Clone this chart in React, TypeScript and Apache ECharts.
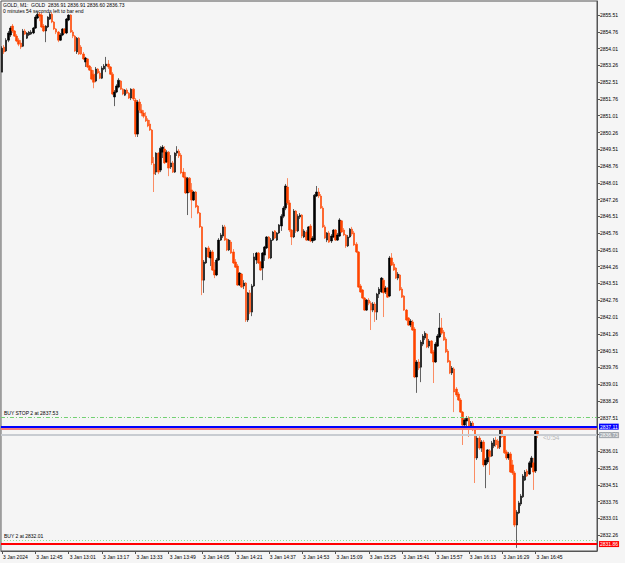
import React, { useEffect, useRef } from "react";
import * as echarts from "echarts";

// GOLD M1 candles, [open, close, low, high]; first bar 3 Jan 12:29
const bars1229: number[][] = [
  [2852.96,2854.03,2852.96,2854.12],[2854.08,2853.86,2853.77,2854.17],[2853.91,2854.39,2853.86,2854.48],
  [2854.39,2854.71,2854.30,2854.80],[2854.62,2854.93,2854.53,2855.02],[2855.02,2854.80,2854.71,2855.11],
  [2854.80,2854.57,2854.53,2854.84],[2854.57,2854.35,2854.30,2854.66],[2854.39,2854.21,2854.12,2854.48],
  [2854.26,2854.08,2853.99,2854.39],[2854.12,2854.80,2854.08,2854.89],[2854.80,2854.66,2854.62,2854.89],
  [2854.48,2854.71,2854.44,2854.75],[2854.62,2854.75,2854.57,2854.80],[2854.66,2854.75,2854.62,2854.84],
  [2854.71,2854.93,2854.66,2854.98],[2854.93,2855.42,2854.89,2855.51],[2855.38,2855.55,2855.33,2855.64],
  [2855.55,2855.46,2855.24,2855.64],[2855.51,2854.98,2854.93,2855.60],[2855.02,2854.80,2854.75,2855.11],
  [2854.80,2855.02,2854.30,2855.06],[2854.98,2855.42,2854.93,2855.46],[2855.33,2855.55,2855.29,2855.64],
  [2855.55,2855.20,2855.15,2855.64],[2855.20,2854.89,2854.84,2855.24],[2854.89,2854.75,2854.66,2854.93],
  [2854.75,2854.39,2854.30,2854.80],[2854.39,2854.62,2854.35,2854.71],[2854.62,2854.89,2854.57,2854.93],
  [2854.89,2854.71,2854.66,2854.93],
];
const bars1300: number[][] = [
  [2854.71,2855.33,2854.66,2855.38],[2855.29,2855.51,2855.24,2855.55],[2855.51,2854.75,2854.71,2855.55],
  [2854.75,2854.57,2854.48,2854.84],[2854.57,2853.91,2853.86,2854.62],[2853.86,2854.48,2853.77,2854.53],
  [2854.48,2853.77,2853.73,2854.53],[2854.08,2853.77,2853.73,2854.17],[2853.77,2853.55,2853.50,2853.86],
  [2853.41,2853.59,2853.19,2853.64],[2853.55,2853.19,2853.14,2853.59],[2853.23,2853.05,2853.01,2853.28],
  [2853.05,2852.65,2852.60,2853.19],[2852.87,2852.51,2852.24,2853.05],[2852.56,2853.10,2852.51,2853.19],
  [2853.10,2852.92,2852.87,2853.14],[2852.92,2852.69,2852.65,2853.01],[2852.69,2853.14,2852.65,2853.23],
  [2853.10,2853.23,2853.05,2853.32],[2853.23,2853.32,2852.96,2853.64],[2853.32,2853.19,2853.10,2853.50],
  [2853.19,2852.87,2852.83,2853.23],[2852.87,2851.98,2851.93,2852.96],[2851.85,2852.07,2851.44,2852.16],
  [2852.07,2852.34,2852.02,2852.42],[2852.29,2852.60,2852.24,2852.69],[2852.56,2852.20,2852.16,2852.60],
  [2852.20,2851.98,2851.93,2852.24],[2851.93,2852.16,2851.89,2852.20],[2852.16,2852.02,2851.98,2852.24],
  [2852.02,2851.80,2851.76,2852.07],[2851.80,2852.20,2851.71,2852.24],[2852.20,2851.76,2851.67,2852.24],
  [2851.71,2850.19,2850.06,2851.80],[2850.19,2851.62,2850.06,2851.71],[2851.62,2851.26,2851.13,2851.76],
  [2851.26,2851.13,2850.99,2851.53],[2851.13,2850.99,2850.90,2851.26],[2850.99,2850.78,2850.73,2851.17],
  [2850.82,2850.55,2850.50,2850.90],[2850.64,2850.37,2850.33,2850.82],[2850.37,2848.90,2848.81,2850.42],
  [2848.85,2848.40,2847.60,2849.16],[2848.49,2849.34,2848.36,2849.38],[2849.34,2848.49,2848.40,2849.38],
  [2848.58,2849.56,2848.49,2849.65],[2849.38,2849.61,2849.12,2849.70],[2849.52,2848.90,2848.85,2849.65],
  [2848.94,2849.38,2848.90,2849.47],[2849.38,2848.67,2848.31,2849.43],[2848.72,2848.90,2848.63,2849.25],
  [2848.90,2848.49,2848.45,2848.99],[2848.49,2849.34,2848.45,2849.38],[2849.34,2849.43,2849.21,2849.65],
  [2849.43,2849.21,2849.12,2849.52],[2849.25,2848.45,2848.40,2849.34],[2848.49,2848.27,2848.22,2848.67],
  [2848.27,2847.56,2847.51,2848.49],[2847.56,2848.22,2846.57,2848.27],[2848.22,2847.60,2847.56,2848.27],
];
const bars1400: number[][] = [
  [2847.69,2847.24,2846.43,2848.00],[2847.24,2847.60,2847.20,2847.65],[2847.60,2846.93,2846.88,2847.65],
  [2846.97,2846.66,2846.61,2847.02],[2846.66,2846.04,2845.99,2846.70],[2846.04,2843.66,2842.99,2846.08],
  [2843.66,2844.47,2843.09,2844.56],[2844.43,2845.10,2844.38,2845.14],[2845.10,2844.70,2844.65,2845.19],
  [2844.65,2844.92,2844.29,2845.01],[2844.92,2844.11,2844.07,2845.01],[2844.11,2843.89,2843.75,2844.47],
  [2843.89,2844.56,2843.84,2844.65],[2844.56,2845.45,2844.52,2845.54],[2845.45,2845.68,2845.41,2845.77],
  [2845.63,2846.04,2845.54,2846.13],[2846.04,2845.45,2845.41,2846.13],[2845.50,2845.01,2844.96,2845.54],
  [2845.01,2845.45,2844.96,2845.50],[2845.36,2844.87,2844.83,2845.45],[2844.92,2844.43,2844.38,2845.05],
  [2844.47,2844.24,2844.20,2844.60],[2844.29,2843.44,2843.40,2844.38],[2843.44,2843.98,2843.40,2844.02],
  [2843.93,2843.35,2843.31,2843.98],[2843.40,2843.53,2843.26,2843.66],[2843.53,2841.88,2841.79,2843.57],
  [2841.88,2843.09,2841.79,2843.13],[2843.09,2842.23,2842.14,2843.22],[2842.23,2843.40,2842.05,2843.49],
  [2843.40,2844.70,2843.35,2844.87],[2844.56,2844.87,2844.38,2844.92],[2844.87,2844.43,2844.38,2844.92],
  [2844.47,2844.11,2844.07,2844.52],[2844.20,2844.87,2843.66,2844.92],[2844.78,2845.14,2844.52,2845.19],
  [2845.10,2845.59,2845.05,2845.63],[2845.59,2844.65,2844.60,2845.63],[2844.65,2845.45,2844.60,2845.54],
  [2845.45,2845.81,2845.41,2845.86],[2845.86,2845.54,2845.50,2845.90],[2845.45,2845.77,2845.41,2845.81],
  [2845.77,2846.13,2845.72,2846.17],[2846.08,2846.52,2845.86,2846.61],[2846.52,2846.88,2846.43,2846.97],
  [2846.88,2847.87,2846.79,2847.96],[2847.82,2847.11,2847.02,2848.22],[2847.11,2845.90,2845.81,2847.24],
  [2845.90,2845.59,2845.23,2845.94],[2845.59,2846.75,2845.54,2846.84],[2846.75,2845.86,2845.77,2846.79],
  [2845.86,2846.52,2845.81,2846.61],[2846.48,2846.57,2846.39,2846.66],[2846.57,2845.63,2845.54,2846.61],
  [2845.59,2845.86,2845.54,2845.94],[2845.81,2845.45,2845.41,2845.90],[2845.45,2846.04,2845.41,2846.08],
  [2846.08,2845.41,2845.36,2846.17],[2845.41,2845.54,2845.32,2845.63],[2845.45,2847.46,2845.41,2847.51],
];
const bars1500: number[][] = [
  [2847.42,2847.60,2847.38,2847.87],[2847.60,2847.42,2847.33,2847.78],[2847.42,2846.88,2846.84,2847.51],
  [2846.88,2846.04,2845.99,2846.97],[2846.04,2845.54,2845.50,2846.13],[2845.45,2845.77,2845.36,2845.81],
  [2845.77,2845.36,2845.32,2845.86],[2845.41,2845.63,2845.32,2845.72],[2845.59,2845.90,2845.54,2845.94],
  [2845.90,2845.45,2845.41,2845.94],[2845.45,2845.68,2845.41,2845.77],[2845.63,2846.35,2845.59,2846.43],
  [2846.31,2845.81,2845.77,2846.35],[2845.90,2845.68,2845.63,2845.99],[2845.68,2845.19,2845.10,2845.72],
  [2845.19,2845.59,2845.14,2845.68],[2845.59,2845.94,2845.54,2845.99],[2845.94,2845.72,2845.63,2846.04],
  [2845.77,2845.23,2845.19,2845.86],[2845.27,2844.92,2844.87,2845.36],[2844.92,2843.35,2843.31,2844.96],
  [2843.40,2843.13,2843.09,2843.49],[2843.22,2842.86,2842.81,2843.26],[2842.86,2842.32,2842.28,2842.90],
  [2842.32,2842.77,2842.28,2842.81],[2842.77,2842.63,2842.54,2842.86],[2842.63,2842.32,2841.43,2842.72],
  [2842.32,2842.59,2842.23,2842.68],[2842.59,2842.23,2841.79,2842.68],[2842.23,2843.04,2841.88,2843.09],
  [2843.04,2843.26,2842.86,2843.35],[2843.13,2843.75,2843.09,2843.80],[2843.66,2843.09,2842.01,2843.75],
  [2843.13,2843.31,2843.04,2843.40],[2843.31,2842.90,2842.86,2843.35],[2842.95,2844.65,2842.90,2844.74],
  [2844.65,2844.33,2844.29,2844.87],[2844.38,2844.11,2844.07,2844.47],[2844.20,2843.75,2843.71,2844.24],
  [2843.75,2843.93,2843.66,2844.02],[2843.89,2843.22,2843.17,2843.93],[2843.26,2842.90,2842.86,2843.35],
  [2842.95,2842.32,2842.28,2842.99],[2842.32,2841.88,2841.83,2842.37],[2841.97,2841.65,2841.61,2842.01],
  [2841.65,2841.83,2841.56,2841.92],[2841.79,2841.43,2841.39,2841.88],[2841.47,2839.33,2839.28,2841.56],
  [2839.33,2840.00,2838.62,2840.09],[2840.00,2839.73,2839.64,2840.13],[2839.77,2840.89,2839.10,2840.98],
  [2840.80,2841.16,2840.71,2841.25],[2841.07,2841.29,2840.98,2841.38],[2841.25,2840.67,2840.62,2841.29],
  [2840.71,2840.94,2840.62,2841.03],[2840.94,2840.40,2840.36,2840.98],[2840.45,2840.00,2839.06,2840.54],
  [2840.00,2840.80,2839.96,2840.89],[2840.71,2841.16,2840.67,2841.25],[2841.12,2841.52,2841.07,2842.19],
];
const bars1600: number[][] = [
  [2841.52,2841.29,2841.21,2841.97],[2841.34,2840.98,2840.94,2841.43],[2841.03,2840.45,2840.40,2841.12],
  [2840.49,2840.00,2839.96,2840.58],[2840.04,2839.51,2839.46,2840.09],[2839.51,2839.73,2839.42,2839.82],
  [2839.69,2838.66,2837.76,2839.77],[2838.79,2838.53,2838.44,2838.88],[2838.57,2838.30,2838.26,2838.66],
  [2838.30,2837.76,2837.72,2838.39],[2837.76,2837.18,2836.29,2837.81],[2837.18,2837.41,2836.96,2837.49],
  [2837.36,2837.49,2837.05,2837.58],[2837.49,2837.09,2836.65,2837.58],[2837.09,2837.27,2837.00,2837.36],
  [2837.27,2836.96,2836.91,2837.36],[2836.96,2835.71,2834.59,2837.05],[2835.71,2836.60,2835.62,2836.69],
  [2836.60,2836.15,2836.07,2836.69],[2836.15,2836.42,2835.98,2836.51],[2836.42,2835.40,2835.31,2836.51],
  [2835.40,2835.62,2834.36,2835.71],[2835.53,2836.07,2835.44,2836.11],[2836.03,2835.76,2834.95,2836.11],
  [2835.80,2836.38,2835.76,2836.47],[2836.24,2836.51,2836.15,2836.60],[2836.51,2836.29,2836.20,2836.65],
  [2836.47,2836.15,2836.11,2836.56],[2836.20,2837.05,2836.11,2837.09],[2837.05,2836.65,2836.60,2837.09],
  [2836.69,2835.94,2835.89,2836.78],[2835.98,2835.71,2835.62,2836.07],[2835.71,2835.89,2835.62,2835.98],
  [2835.89,2835.08,2835.04,2835.98],[2835.40,2835.04,2834.95,2835.62],[2835.04,2832.71,2832.62,2835.13],
  [2832.71,2833.29,2831.69,2833.38],[2833.25,2833.70,2833.20,2833.79],[2833.65,2834.01,2833.56,2834.10],
  [2833.97,2834.90,2833.92,2834.99],[2834.72,2835.08,2834.68,2835.17],[2835.13,2834.90,2834.86,2835.21],
  [2834.99,2835.49,2834.95,2835.58],[2835.31,2835.71,2835.26,2835.80],[2835.49,2835.08,2834.28,2835.71],
  [2835.13,2836.91,2835.04,2836.96],[2836.91,2836.73,2836.60,2836.91],
];

const xTickLabels = [
  "3 Jan 2024", "3 Jan 12:45", "3 Jan 13:01", "3 Jan 13:17", "3 Jan 13:33", "3 Jan 13:49",
  "3 Jan 14:05", "3 Jan 14:21", "3 Jan 14:37", "3 Jan 14:53", "3 Jan 15:09", "3 Jan 15:25",
  "3 Jan 15:41", "3 Jan 15:57", "3 Jan 16:13", "3 Jan 16:29", "3 Jan 16:45",
];
const yTickLabels = [
  2832.26, 2833.01, 2833.76, 2834.51, 2835.26, 2836.01, 2836.76, 2837.51, 2838.26, 2839.01,
  2839.76, 2840.51, 2841.26, 2842.01, 2842.76, 2843.51, 2844.26, 2845.01, 2845.76, 2846.51,
  2847.26, 2848.01, 2848.76, 2849.51, 2850.26, 2851.01, 2851.76, 2852.51, 2853.26, 2854.01,
  2854.76, 2855.51,
];

const buyStopPrice = 2837.53;
const bluePrice = 2837.11;
const askPrice = 2837.02;
const bidPrice = 2836.73;
const buyPrice = 2832.01;
const redPrice = 2831.86;
const header = "GOLD, M1:  GOLD  2836.91 2836.91 2836.60 2836.73";
const timerText = "0 minutes 54 seconds left to bar end";
const timerShort = "<0:54";

const FONT = "Liberation Sans";
const TICK_STEP = 16;
const SLOTS = 286;
const START_MIN = 12 * 60 + 29;

export default function App() {
  const ref = useRef<HTMLDivElement>(null);
  useEffect(() => {
    document.body.style.margin = "0";
    const chart = echarts.init(ref.current!, undefined, { renderer: "svg" });
    const bars = [...bars1229, ...bars1300, ...bars1400, ...bars1500, ...bars1600];
    const categories = Array.from({ length: SLOTS }, (_, i) => {
      const m = START_MIN + i;
      return `${Math.floor(m / 60)}:${String(m % 60).padStart(2, "0")}`;
    });
    const showTick = (index: number) =>
      index % TICK_STEP === 0 && index / TICK_STEP < xTickLabels.length;
    const boxLabel = (bg: string) => ({
      show: true,
      position: "end",
      distance: 2,
      formatter: (p: any) => Number(p.value).toFixed(2),
      backgroundColor: bg,
      color: "#ffffff",
      fontSize: 5,
      fontFamily: FONT,
      padding: [1, 1, 0, 1],
    });
    chart.setOption({
      animation: false,
      backgroundColor: "#f5f5f5",
      grid: { left: 0, right: 28, top: 1, bottom: 12, show: true, borderColor: "#555", borderWidth: 1 },
      xAxis: {
        type: "category",
        data: categories,
        boundaryGap: true,
        axisLine: { show: true, lineStyle: { color: "#555", width: 1 } },
        axisTick: { show: true, interval: showTick, alignWithLabel: true, length: 3, lineStyle: { color: "#555" } },
        axisLabel: {
          interval: showTick,
          formatter: (_v: string, index: number) =>
            showTick(index) ? xTickLabels[index / TICK_STEP] : "",
          align: "left",
          padding: [0, 0, 0, 1],
          margin: 3,
          fontSize: 5,
          fontFamily: FONT,
          color: "#000",
        },
        splitLine: { show: false },
      },
      yAxis: {
        type: "value",
        position: "right",
        min: 2831.55,
        max: 2856.14,
        scale: true,
        axisLine: { show: true, lineStyle: { color: "#555", width: 1 } },
        axisTick: { show: true, customValues: yTickLabels, length: 3, lineStyle: { color: "#555" } },
        axisLabel: {
          customValues: yTickLabels,
          formatter: (v: number) => v.toFixed(2),
          margin: 3,
          fontSize: 5,
          fontFamily: FONT,
          color: "#000",
        },
        splitLine: { show: false },
      },
      series: [
        {
          type: "candlestick",
          data: bars,
          barWidth: 2,
          itemStyle: {
            color: "#000000",
            color0: "#ff4500",
            borderColor: "#000000",
            borderColor0: "#ff4500",
            borderWidth: 0.6,
          },
          markLine: {
            symbol: ["none", "none"],
            silent: true,
            animation: false,
            data: [
              {
                yAxis: buyStopPrice,
                lineStyle: { color: "#72d072", type: [4, 2, 1, 2], width: 1 },
                label: {
                  show: true, position: "insideStartTop", distance: [3, 2],
                  formatter: `BUY STOP 2 at ${buyStopPrice.toFixed(2)}`,
                  color: "#000", fontSize: 5, fontFamily: FONT,
                },
              },
              { yAxis: askPrice, lineStyle: { color: "#f47c7c", type: "solid", width: 2 }, label: { show: false } },
              { yAxis: bluePrice, lineStyle: { color: "#0000ff", type: "solid", width: 2 }, label: boxLabel("#0000ff") },
              { yAxis: bidPrice, lineStyle: { color: "#c8ccd1", type: "solid", width: 2 }, label: boxLabel("#a4aab0") },
              {
                yAxis: buyPrice,
                lineStyle: { color: "#8ee08e", type: [1, 2], width: 1 },
                label: {
                  show: true, position: "insideStartTop", distance: [3, 2],
                  formatter: `BUY 2 at ${buyPrice.toFixed(2)}`,
                  color: "#000", fontSize: 5, fontFamily: FONT,
                },
              },
              { yAxis: redPrice, lineStyle: { color: "#ff0000", type: "solid", width: 2 }, label: boxLabel("#ff0000") },
            ],
          },
        },
      ],
      graphic: [
        { type: "text", left: 3, top: 2, style: { text: header, fill: "#000", font: `5px "${FONT}"` } },
        { type: "text", left: 3, top: 8, style: { text: timerText, fill: "#000", font: `5px "${FONT}"` } },
        { type: "text", left: 543, top: 434, style: { text: timerShort, fill: "#b8b8b8", font: `6.5px "${FONT}"` } },
      ],
    });
    return () => chart.dispose();
  }, []);
  return (
    <div
      ref={ref}
      style={{ position: "absolute", left: 0, top: 0, width: 625, height: 563, background: "#f5f5f5" }}
    />
  );
}
